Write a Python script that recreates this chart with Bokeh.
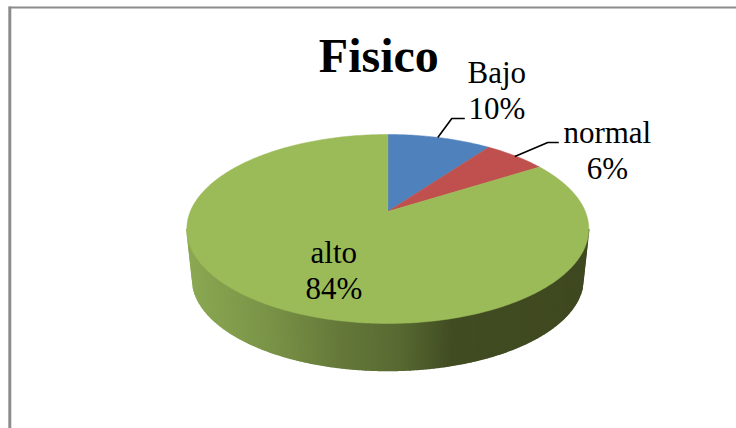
import numpy as np
from bokeh.plotting import figure
from bokeh.models import Range1d
from bokeh.core.properties import value
from bokeh.embed import file_html
from bokeh.resources import INLINE

# ---- chart data ----
title = "Fisico"
categories = ["Bajo", "normal", "alto"]
percent = [10, 6, 84]
colors = ["#4F81BD", "#C0504D", "#9BBB59"]

# ---- layout (pixels of the 736x428 picture) ----
W, H = 736, 428
APEX_X, APEX_Y = 388, 211
BASE_RADIUS, PERSP_Y, PERSP_K = 197.5, 91.26, 0.185
TOP_CY, TOP_RX, TOP_RY = 228.5, 201.0, 94.5
BOT_CX, BOT_CY, BOT_RX, BOT_RY = 388.0, 278.0, 195.5, 92.0
WALL_X = [187, 270, 340, 400, 453, 589]
WALL_RGB = [(0x8C, 0xA9, 0x53), (0x7A, 0x93, 0x47), (0x65, 0x79, 0x3A),
            (0x58, 0x6A, 0x32), (0x41, 0x4C, 0x22), (0x3F, 0x49, 0x21)]
FRAME = "#8C8C8C"
FONT = value("Liberation Serif")

p = figure(width=W, height=H, x_range=Range1d(0.7, W + 0.7), y_range=Range1d(H, 0),
           output_backend="svg", toolbar_location=None, min_border=0,
           margin=(0, 0, 0, 0))
p.axis.visible = False
p.grid.visible = False
p.outline_line_color = None
p.background_fill_color = "white"
p.border_fill_color = "white"


def project(angle):
    """Angle in radians clockwise from 12 o'clock -> picture position."""
    u, v = np.sin(angle), np.cos(angle)
    d = 1 + PERSP_K * v
    return APEX_X + BASE_RADIUS * u / d, APEX_Y - PERSP_Y * v / d


# frame
p.segment([10], [6], [10], [H], line_color=FRAME, line_width=3)
p.segment([9], [7], [W + 1], [7], line_color=FRAME, line_width=2)

# side wall: narrow bands along the front of the pie, shaded by x
phi = np.arccos(np.linspace(-1, 1, 270))
tx = APEX_X + TOP_RX * np.cos(phi)
ty = TOP_CY + TOP_RY * np.sin(phi)
bx = BOT_CX + BOT_RX * np.cos(phi)
by = BOT_CY + BOT_RY * np.sin(phi)
xs, ys, cs = [], [], []
for i in range(len(phi) - 1):
    xs.append([tx[i], tx[i + 1], bx[i + 1], bx[i]])
    ys.append([ty[i], ty[i + 1], by[i + 1], by[i]])
    mid = (tx[i] + tx[i + 1] + bx[i] + bx[i + 1]) / 4
    rgb = [int(round(np.interp(mid, WALL_X, [c[k] for c in WALL_RGB]))) for k in range(3)]
    cs.append("#%02X%02X%02X" % tuple(rgb))
p.patches(xs, ys, fill_color=cs, line_color=cs, line_width=1.5)

# top of the pie
edges = np.cumsum([0] + percent) / sum(percent) * 2 * np.pi
for a0, a1, c in zip(edges[:-1], edges[1:], colors):
    ang = np.linspace(a0, a1, max(8, int((a1 - a0) * 60)))
    px, py = project(ang)
    p.patch([APEX_X, *px], [APEX_Y, *py], fill_color=c, line_color=c, line_width=0.5)

# leader lines
p.line([438, 452, 465], [137, 118, 118], line_color="black", line_width=1.6)
p.line([515, 548, 559], [156, 142, 142], line_color="black", line_width=1.6)

# title
p.text([379], [55], text=[title], text_font=FONT, text_font_size="48px",
       text_font_style="bold", text_align="center", text_baseline="alphabetic",
       text_color="black")

# data labels
label_x = [497, 607.5, 334]
label_y = [72, 132, 252]
LINE_GAP = 36
for name, pct, x, y in zip(categories, percent, label_x, label_y):
    p.text([x, x], [y, y + LINE_GAP], text=[name, f"{pct}%"], text_font=FONT,
           text_font_size="31px", text_align="center", text_baseline="alphabetic",
           text_color="black")

open("out.html", "w").write(file_html(p, INLINE))
